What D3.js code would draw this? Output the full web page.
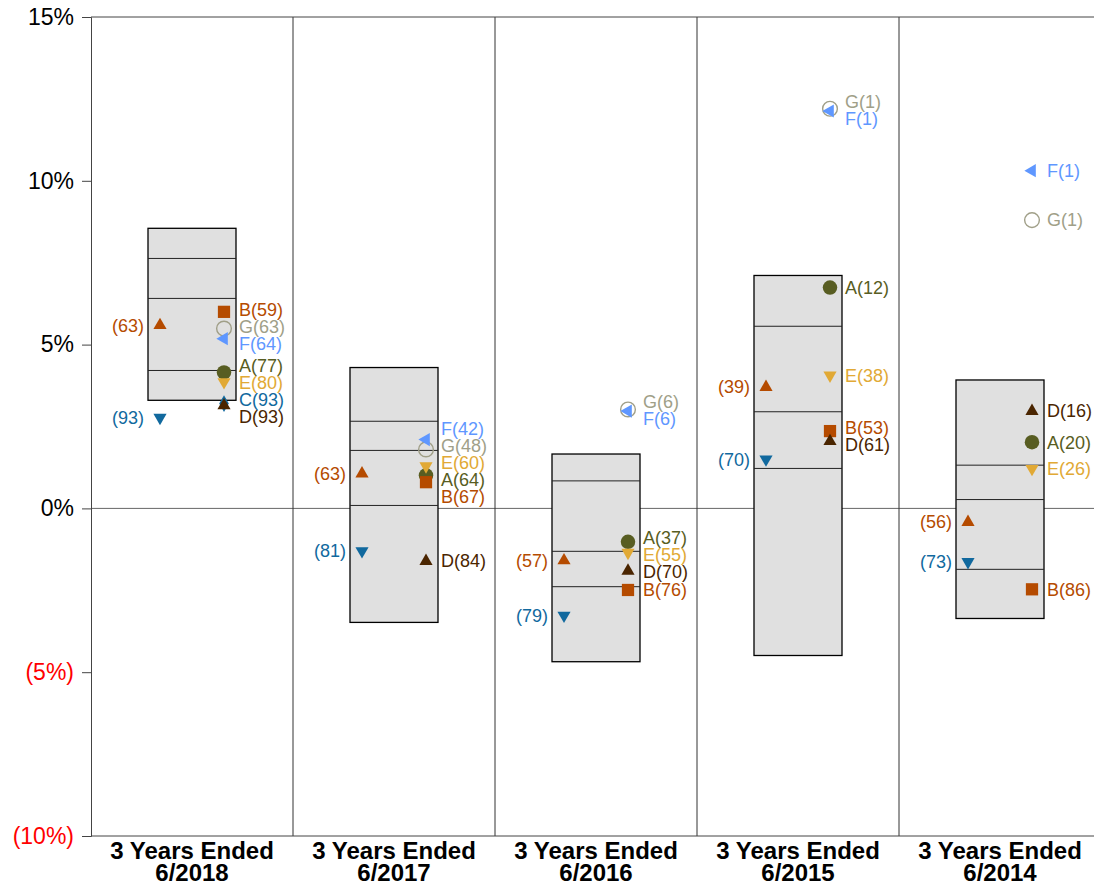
<!DOCTYPE html>
<html>
<head>
<meta charset="utf-8">
<script src="https://cdn.jsdelivr.net/npm/d3@7"></script>
<style>
  body { margin: 0; background: #fff; }
  svg { display: block; font-family: "Liberation Sans", Arial, sans-serif; }
</style>
</head>
<body>
<div id="chart"></div>
<script>
// periods along the x axis
const periods = ["6/2018", "6/2017", "6/2016", "6/2015", "6/2014"];
const yTicks = [-10, -5, 0, 5, 10, 15];

// universe box: top, upper line, middle line, lower line, bottom (in %)
const boxTop    = [8.55, 4.30, 1.66, 7.11, 3.92];
const boxUpper  = [7.63, 2.66, 0.84, 5.56, 1.32];
const boxMiddle = [6.41, 1.77, -1.31, 2.95, 0.27];
const boxLower  = [4.21, 0.09, -2.39, 1.22, -1.86];
const boxBottom = [3.30, -3.48, -4.68, -4.49, -3.36];

// right-hand managers (value %, rank)
const valA = [4.15, 1.01, -1.02, 6.74, 2.02];
const rankA = [77, 64, 37, 12, 20];
const valB = [6.00, 0.80, -2.49, 2.36, -2.47];
const rankB = [59, 67, 76, 53, 86];
const valC = [3.20, null, null, null, null];
const rankC = [93, null, null, null, null];
const valD = [3.14, -1.61, -1.91, 2.05, 2.97];
const rankD = [93, 84, 70, 61, 16];
const valE = [3.86, 1.29, -1.35, 4.06, 1.21];
const rankE = [80, 60, 55, 38, 26];
const valF = [5.18, 2.10, 2.97, 12.13, 10.31];
const rankF = [64, 42, 6, 1, 1];
const valG = [5.49, 1.80, 3.02, 12.20, 8.80];
const rankG = [63, 48, 6, 1, 1];

// left-hand benchmarks
const valIdx1 = [5.59, 1.06, -1.59, 3.70, -0.42];
const rankIdx1 = [63, 63, 57, 39, 56];
const valIdx2 = [2.77, -1.30, -3.27, 1.50, -1.63];
const rankIdx2 = [93, 81, 79, 70, 73];

const W = 1094, H = 886;
const margin = { top: 17, left: 91, bottom: 50 };

const svg = d3.select("#chart").append("svg")
  .attr("width", W).attr("height", H);

const x = d3.scaleBand().domain(periods).range([margin.left, margin.left + 202 * periods.length]);
const y = d3.scaleLinear().domain([-10, 15]).range([H - margin.bottom, margin.top]);

// series list (draw order)
const series = [
  { name: "A", side: "right", vals: valA, ranks: rankA, color: "#585d22", shape: d3.symbolCircle, size: 165, rot: 0 },
  { name: "B", side: "right", vals: valB, ranks: rankB, color: "#b54b00", shape: d3.symbolSquare, size: 150, rot: 0 },
  { name: "E", side: "right", vals: valE, ranks: rankE, color: "#e1a935", shape: d3.symbolTriangle, size: 75, rot: 180 },
  { name: "G", side: "right", vals: valG, ranks: rankG, color: "#a09f88", shape: d3.symbolCircle, size: 170, rot: 0, open: true },
  { name: "F", side: "right", vals: valF, ranks: rankF, color: "#5f97ff", shape: d3.symbolTriangle, size: 75, rot: -90 },
  { name: "C", side: "right", vals: valC, ranks: rankC, color: "#11699e", shape: d3.symbolDiamond, size: 80, rot: 0 },
  { name: "D", side: "right", vals: valD, ranks: rankD, color: "#4a2500", shape: d3.symbolTriangle, size: 75, rot: 0 },
  { name: "", side: "left", vals: valIdx1, ranks: rankIdx1, color: "#b54b00", shape: d3.symbolTriangle, size: 75, rot: 0 },
  { name: "", side: "left", vals: valIdx2, ranks: rankIdx2, color: "#11699e", shape: d3.symbolTriangle, size: 75, rot: 180 }
];

const boxL = p => x(p) + 57, boxR = p => x(p) + 145;

// zero line (behind boxes)
svg.append("line")
  .attr("x1", margin.left).attr("x2", W)
  .attr("y1", y(0)).attr("y2", y(0))
  .attr("stroke", "#666").attr("stroke-width", 1);

// column dividers
periods.slice(1).forEach(p => {
  svg.append("line")
    .attr("x1", x(p)).attr("x2", x(p))
    .attr("y1", y(15)).attr("y2", y(-10))
    .attr("stroke", "#333").attr("stroke-width", 1);
});

// top and bottom lines
[15, -10].forEach(v => {
  svg.append("line")
    .attr("x1", margin.left).attr("x2", W)
    .attr("y1", y(v)).attr("y2", y(v))
    .attr("stroke", "#444");
});

// y axis
const yAxis = svg.append("g")
  .attr("transform", `translate(${margin.left},0)`)
  .call(d3.axisLeft(y).tickValues(yTicks).tickSize(9).tickPadding(8)
    .tickFormat(v => v < 0 ? `(${-v}%)` : `${v}%`));
yAxis.select(".domain").attr("stroke", "#444");
yAxis.selectAll(".tick line").attr("stroke", "#444");
yAxis.selectAll(".tick text")
  .attr("font-size", 23)
  .attr("font-family", "Liberation Sans, Arial, sans-serif")
  .attr("fill", d => d < 0 ? "#ff0000" : "#000");

// boxes
periods.forEach((p, i) => {
  const g = svg.append("g");
  g.append("rect")
    .attr("x", boxL(p)).attr("width", boxR(p) - boxL(p))
    .attr("y", y(boxTop[i])).attr("height", y(boxBottom[i]) - y(boxTop[i]))
    .attr("fill", "#e0e0e0").attr("stroke", "#000").attr("stroke-width", 1.3);
  [boxUpper[i], boxMiddle[i], boxLower[i]].forEach(v => {
    g.append("line")
      .attr("x1", boxL(p)).attr("x2", boxR(p))
      .attr("y1", y(v)).attr("y2", y(v))
      .attr("stroke", "#222").attr("stroke-width", 1);
  });
});

// markers
const markerX = (p, side) => side === "left" ? boxL(p) + 12 : boxR(p) - 12;
series.forEach(s => {
  periods.forEach((p, i) => {
    if (s.vals[i] == null) return;
    svg.append("path")
      .attr("d", d3.symbol().type(s.shape).size(s.size)())
      .attr("transform", `translate(${markerX(p, s.side)},${y(s.vals[i])}) rotate(${s.rot})`)
      .attr("fill", s.open ? "none" : s.color)
      .attr("stroke", s.open ? s.color : "none")
      .attr("stroke-width", 1.4);
  });
});

// labels with simple de-overlap
const gap = 17;
periods.forEach((p, i) => {
  ["left", "right"].forEach(side => {
    const labs = series.filter(s => s.side === side && s.vals[i] != null)
      .map(s => ({ s, y0: y(s.vals[i]), y: y(s.vals[i]) }))
      .sort((a, b) => a.y0 - b.y0);
    for (let k = 0; k < 200; k++) {
      for (let j = 1; j < labs.length; j++) {
        const d = labs[j].y - labs[j - 1].y;
        if (d < gap) {
          const m = (gap - d) / 2;
          labs[j - 1].y -= m;
          labs[j].y += m;
        }
      }
    }
    labs.forEach(l => {
      svg.append("text")
        .attr("x", side === "left" ? markerX(p, side) - 16 : markerX(p, side) + 15)
        .attr("y", l.y)
        .attr("dy", "0.35em")
        .attr("text-anchor", side === "left" ? "end" : "start")
        .attr("font-size", 18)
        .attr("fill", l.s.color)
        .text(`${l.s.name}(${l.s.ranks[i]})`);
    });
  });
});

// x labels
periods.forEach(p => {
  const cx = x(p) + x.bandwidth() / 2;
  const t = svg.append("text")
    .attr("text-anchor", "middle")
    .attr("font-size", 24)
    .attr("font-weight", "bold")
    .attr("fill", "#000");
  t.append("tspan").attr("x", cx).attr("y", 859).text("3 Years Ended");
  t.append("tspan").attr("x", cx).attr("y", 881).text(p);
});
</script>
</body>
</html>
